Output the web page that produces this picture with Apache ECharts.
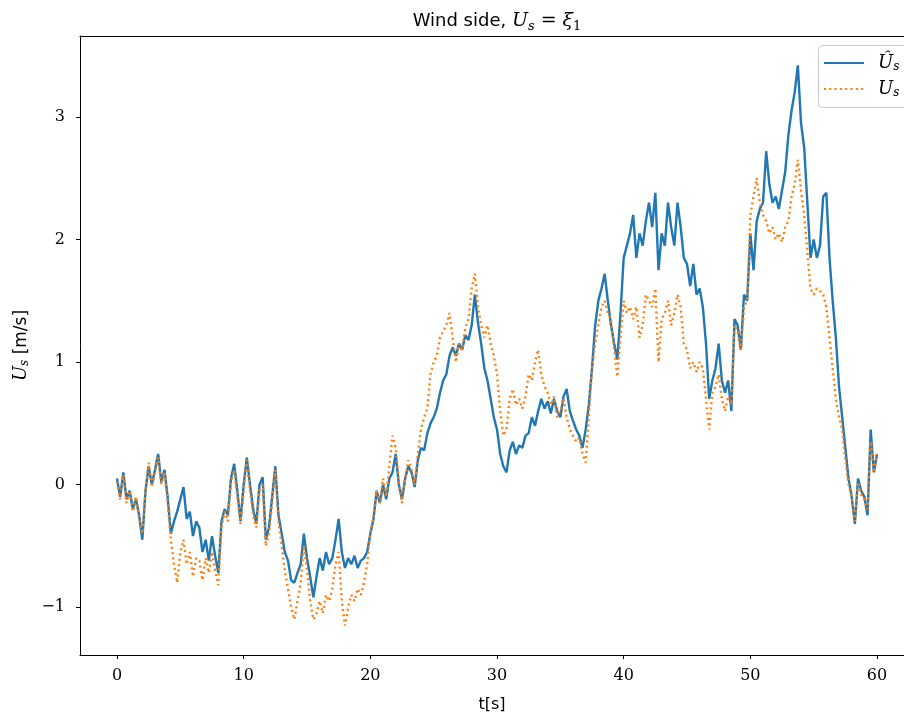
<!DOCTYPE html>
<html><head><meta charset="utf-8">
<script src="https://cdn.jsdelivr.net/npm/echarts@6/dist/echarts.min.js"></script>
<style>html,body{margin:0;padding:0;background:#fff}#c{width:904px;height:718px}</style>
</head><body><div id="c"></div>
<script>
const tStep = 0.25;
// U_s hat (blue), sampled every 0.25 s
const uHat = [
 0.05,-0.10,0.10,-0.12, -0.05,-0.20,-0.12,-0.25, -0.45,-0.05,0.15,0.00, 0.12,0.25,0.02,0.12,
 -0.10,-0.40,-0.30,-0.22, -0.12,-0.02,-0.28,-0.22, -0.42,-0.30,-0.35,-0.55, -0.45,-0.62,-0.42,-0.58,
 -0.72,-0.30,-0.20,-0.25, 0.05,0.17,-0.05,-0.30, 0.00,0.22,0.00,-0.20, -0.32,0.00,0.06,-0.45,
 -0.35,-0.10,0.15,-0.25, -0.40,-0.55,-0.62,-0.78, -0.80,-0.72,-0.65,-0.40, -0.60,-0.75,-0.92,-0.75,
 -0.60,-0.70,-0.55,-0.65, -0.60,-0.45,-0.28,-0.55, -0.68,-0.60,-0.65,-0.58, -0.68,-0.62,-0.60,-0.55,
 -0.40,-0.28,-0.05,-0.15, 0.00,-0.12,0.05,0.10, 0.25,0.00,-0.12,0.05, 0.15,0.10,-0.02,0.20,
 0.30,0.28,0.42,0.50, 0.55,0.62,0.75,0.85, 0.90,1.05,1.12,1.05, 1.15,1.10,1.22,1.18,
 1.30,1.55,1.32,1.15, 0.95,0.85,0.70,0.55, 0.45,0.25,0.15,0.10, 0.28,0.35,0.25,0.32,
 0.30,0.40,0.42,0.55, 0.48,0.60,0.70,0.62, 0.68,0.58,0.70,0.60, 0.55,0.72,0.78,0.60,
 0.52,0.45,0.40,0.30, 0.45,0.65,0.95,1.30, 1.50,1.60,1.72,1.50, 1.30,1.15,1.02,1.40,
 1.85,1.95,2.05,2.20, 1.85,2.05,1.95,2.15, 2.30,2.10,2.38,1.75, 2.05,1.95,2.30,2.10,
 1.95,2.30,2.10,1.85, 1.80,1.62,1.80,1.55, 1.60,1.45,1.15,0.70, 0.85,0.95,1.15,0.85,
 0.75,0.85,0.60,1.35, 1.30,1.10,1.55,1.50, 2.05,1.75,2.15,2.25, 2.30,2.72,2.45,2.30,
 2.35,2.25,2.40,2.55, 2.85,3.05,3.20,3.42, 2.95,2.75,2.30,1.85, 2.00,1.85,1.95,2.35,
 2.38,1.85,1.50,1.20, 0.80,0.55,0.30,0.05, -0.10,-0.32,0.05,-0.05, -0.10,-0.25,0.45,0.10,
 0.25
];
// U_s (orange), sampled every 0.25 s
const uS = [
 0.02,-0.12,0.08,-0.15, -0.05,-0.22,-0.10,-0.28, -0.40,-0.05,0.18,-0.02, 0.10,0.22,0.00,0.10,
 -0.15,-0.45,-0.65,-0.80, -0.55,-0.45,-0.65,-0.55, -0.75,-0.60,-0.62,-0.78, -0.60,-0.72,-0.55,-0.70,
 -0.82,-0.35,-0.22,-0.30, 0.02,0.12,-0.10,-0.32, -0.05,0.20,-0.05,-0.25, -0.35,-0.05,0.00,-0.50,
 -0.40,-0.15,0.12,-0.30, -0.50,-0.70,-0.85,-1.00, -1.10,-0.95,-0.80,-0.50, -0.70,-0.95,-1.10,-1.05,
 -0.95,-1.05,-0.90,-0.95, -0.85,-0.65,-0.55,-0.95, -1.15,-1.00,-0.90,-0.95, -0.85,-0.90,-0.80,-0.65,
 -0.40,-0.25,-0.05,-0.15, 0.05,-0.10,0.15,0.40, 0.30,0.02,-0.15,0.05, 0.20,0.12,0.00,0.25,
 0.45,0.55,0.62,0.90, 1.00,1.05,1.20,1.25, 1.30,1.40,1.20,1.00, 1.15,1.10,1.28,1.35,
 1.60,1.72,1.45,1.30, 1.20,1.30,1.15,1.05, 0.90,0.60,0.40,0.45, 0.70,0.78,0.65,0.70,
 0.62,0.72,0.90,0.85, 1.00,1.10,0.90,0.80, 0.75,0.65,0.72,0.55, 0.60,0.70,0.55,0.45,
 0.40,0.35,0.38,0.25, 0.18,0.55,0.95,1.15, 1.30,1.45,1.50,1.40, 1.35,1.10,0.88,1.20,
 1.50,1.40,1.45,1.35, 1.45,1.20,1.30,1.55, 1.50,1.45,1.60,1.00, 1.35,1.40,1.50,1.30,
 1.40,1.55,1.45,1.15, 1.10,0.95,1.00,0.92, 1.00,0.95,0.70,0.45, 0.75,0.80,0.90,0.70,
 0.60,0.72,0.65,1.30, 1.25,1.10,1.45,1.50, 2.20,2.35,2.50,2.30, 2.20,2.15,2.05,2.10,
 2.00,2.05,1.98,2.10, 2.15,2.35,2.45,2.65, 2.40,2.20,1.90,1.60, 1.55,1.60,1.58,1.55,
 1.45,1.20,0.95,0.70, 0.55,0.45,0.20,0.00, -0.10,-0.30,0.02,-0.08, -0.12,-0.20,0.35,0.10,
 0.25
];
const xTicks = [0, 10, 20, 30, 40, 50, 60];
const yTicks = [-1, 0, 1, 2, 3];

const serif = "'DejaVu Serif', 'Liberation Serif', serif";
const sans = "'DejaVu Sans', 'Liberation Sans', sans-serif";
const toPairs = arr => arr.map((v, i) => [i * tStep, v]);
const minus = v => (v < 0 ? '\u2212' + Math.abs(v) : String(v));
const blue = '#1f77b4', orange = '#ff7f0e';
const legendRich = {
  u: { fontFamily: serif, fontStyle: 'italic', fontSize: 18, lineHeight: 20 },
  s: { fontFamily: serif, fontStyle: 'italic', fontSize: 12, lineHeight: 20, verticalAlign: 'bottom', padding: [6, 0, 0, 0] }
};

const xMin = -2.92, xMax = 62.13;
const chart = echarts.init(document.getElementById('c'), null, { renderer: 'canvas' });
chart.setOption({
  animation: false,
  backgroundColor: '#fff',
  title: {
    text: 'Wind side, {i|U}{sub|s}{m| = }{i|\u03BE}{n|1}',
    left: 492, top: 4, textAlign: 'center',
    textStyle: {
      fontFamily: sans, fontSize: 18, fontWeight: 'normal', color: '#000', lineHeight: 24,
      rich: {
        i: { fontFamily: serif, fontStyle: 'italic', fontSize: 19, lineHeight: 24 },
        m: { fontFamily: serif, fontSize: 19, lineHeight: 24 },
        sub: { fontFamily: serif, fontStyle: 'italic', fontSize: 13, verticalAlign: 'bottom', lineHeight: 24, padding: [8, 0, 0, 0] },
        n: { fontFamily: serif, fontSize: 13, verticalAlign: 'bottom', lineHeight: 24, padding: [8, 0, 0, 0] }
      }
    }
  },
  grid: { left: 80, top: 36, right: 0, bottom: 60, show: false },
  graphic: [
    { type: 'rect', left: 818, top: 45, z: 100,
      shape: { width: 110, height: 62, r: 4 },
      style: { fill: 'rgba(255,255,255,0.85)', stroke: '#cccccc', lineWidth: 1 } },
    { type: 'line', z: 101, shape: { x1: 824, y1: 63, x2: 864, y2: 63 },
      style: { stroke: blue, lineWidth: 2.2 } },
    { type: 'line', z: 101, shape: { x1: 824, y1: 89, x2: 864, y2: 89 },
      style: { stroke: orange, lineWidth: 2.2, lineDash: [2, 3.3] } },
    { type: 'text', z: 101, x: 878, y: 63,
      style: { text: '{u|\u00DB}{s|s}', rich: legendRich, verticalAlign: 'middle', align: 'left', fill: '#000' } },
    { type: 'text', z: 101, x: 878, y: 89,
      style: { text: '{u|U}{s|s}', rich: legendRich, verticalAlign: 'middle', align: 'left', fill: '#000' } }
  ],
  xAxis: [{
    type: 'value', min: xMin, max: xMax, position: 'bottom',
    name: 't[s]', nameLocation: 'middle', nameGap: 42,
    nameTextStyle: { fontFamily: sans, fontSize: 16, color: '#000' },
    axisLine: { onZero: false, lineStyle: { color: '#000', width: 1 } },
    axisTick: { show: true, customValues: xTicks, length: 4, lineStyle: { color: '#000' } },
    axisLabel: { customValues: xTicks, margin: 13, fontFamily: serif, fontSize: 16, color: '#000', formatter: minus },
    splitLine: { show: false }
  }, {
    type: 'value', min: xMin, max: xMax, position: 'top',
    axisLine: { onZero: false, lineStyle: { color: '#000', width: 1 } },
    axisTick: { show: false }, axisLabel: { show: false }, splitLine: { show: false }
  }],
  yAxis: {
    type: 'value', min: -1.39, max: 3.66,
    name: '{i|U}{sub|s} [m/s]', nameLocation: 'middle', nameRotate: 90, nameGap: 44,
    nameTextStyle: {
      fontFamily: sans, fontSize: 17, color: '#000',
      rich: {
        i: { fontFamily: serif, fontStyle: 'italic', fontSize: 18 },
        sub: { fontFamily: serif, fontStyle: 'italic', fontSize: 12, verticalAlign: 'bottom', padding: [6, 0, 0, 0] }
      }
    },
    axisLine: { show: true, onZero: false, lineStyle: { color: '#000', width: 1 } },
    axisTick: { show: true, customValues: yTicks, length: 4, lineStyle: { color: '#000' } },
    axisLabel: { customValues: yTicks, margin: 15, fontFamily: serif, fontSize: 16, color: '#000', formatter: minus },
    splitLine: { show: false }
  },
  series: [
    {
      name: 'uhat', type: 'line', data: toPairs(uHat), symbol: 'none', showSymbol: false,
      lineStyle: { color: blue, width: 2.4 }, itemStyle: { color: blue }, z: 2
    },
    {
      name: 'us', type: 'line', data: toPairs(uS), symbol: 'none', showSymbol: false,
      lineStyle: { color: orange, width: 2.4, type: [2, 3.3] }, itemStyle: { color: orange }, z: 3
    }
  ]
});
</script></body></html>
